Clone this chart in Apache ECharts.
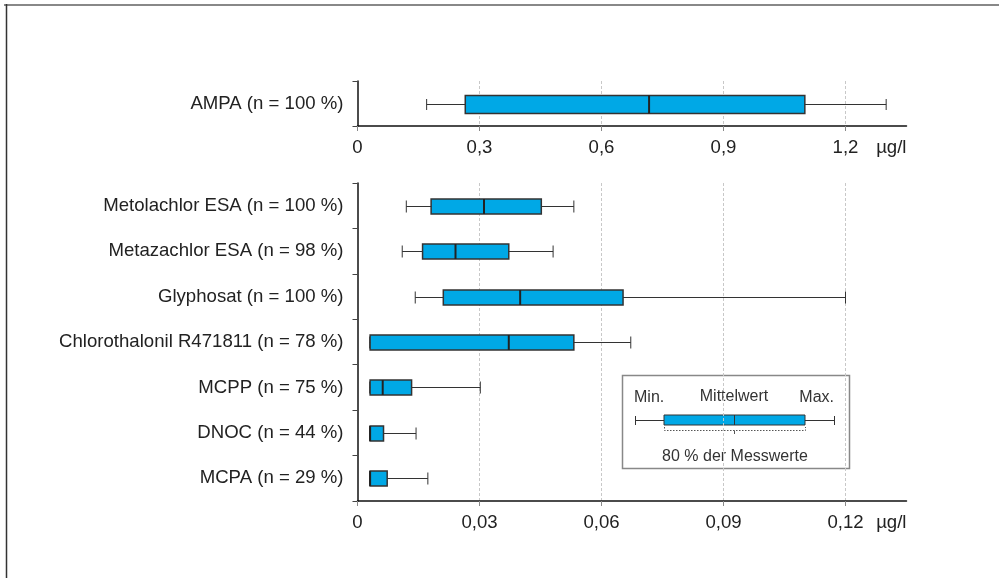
<!DOCTYPE html>
<html><head><meta charset="utf-8">
<script src="https://cdn.jsdelivr.net/npm/echarts@6/dist/echarts.min.js"></script>
<style>html,body{margin:0;padding:0;background:#fff}#c{width:999px;height:578px}</style>
</head><body><div id="c"></div>
<script>
// ---- data ----
const topCategories = ['AMPA (n = 100 %)'];
const topMin = [0.17];
const topQ1 = [0.265];
const topMedian = [0.717];
const topQ3 = [1.10];
const topMax = [1.30];
const topTicks = [0, 0.3, 0.6, 0.9, 1.2];

const categories = ['Metolachlor ESA (n = 100 %)', 'Metazachlor ESA (n = 98 %)', 'Glyphosat (n = 100 %)',
  'Chlorothalonil R471811 (n = 78 %)', 'MCPP (n = 75 %)', 'DNOC (n = 44 %)', 'MCPA (n = 29 %)'];
const mins =    [0.0120, 0.0110, 0.0142, 0.0030, 0.0030, 0.0030, 0.0030];
const q1s =     [0.0181, 0.0160, 0.0211, 0.0031, 0.0031, 0.0031, 0.0031];
const medians = [0.0311, 0.0241, 0.0400, 0.0372, 0.0062, 0.0031, 0.0031];
const q3s =     [0.0452, 0.0372, 0.0653, 0.0532, 0.0133, 0.0064, 0.0073];
const maxs =    [0.0532, 0.0481, 0.1200, 0.0672, 0.0302, 0.0144, 0.0173];
const bottomTicks = [0, 0.03, 0.06, 0.09, 0.12];
const unit = 'µg/l';

// ---- chart ----
const FONT = '"Liberation Sans", Arial, sans-serif';
const TXT = '#222';
const BLUE = '#00a8e6';
const FS = 18.6;
const chart = echarts.init(document.getElementById('c'), null, {renderer: 'canvas'});

function rows(mn, a, m, b, mx) {
  return mn.map((v, i) => [i, v, a[i], m[i], b[i], mx[i]]);
}
function makeRender(boxFrac, capFrac) {
  return function (params, api) {
    const cat = api.value(0);
    const lo = api.coord([api.value(1), cat]);
    const q1 = api.coord([api.value(2), cat]);
    const md = api.coord([api.value(3), cat]);
    const q3 = api.coord([api.value(4), cat]);
    const hi = api.coord([api.value(5), cat]);
    const band = api.size([0, 1])[1];
    const bh = Math.round(band * boxFrac), ch = Math.round(band * capFrac);
    const y = Math.round(lo[1]) + 0.5;
    const ln = {stroke: '#333', lineWidth: 1};
    return {
      type: 'group',
      children: [
        {type: 'line', shape: {x1: lo[0], y1: y, x2: hi[0], y2: y}, style: ln},
        {type: 'line', shape: {x1: lo[0], y1: y - ch / 2, x2: lo[0], y2: y + ch / 2}, style: ln},
        {type: 'line', shape: {x1: hi[0], y1: y - ch / 2, x2: hi[0], y2: y + ch / 2}, style: ln},
        {type: 'rect', shape: {x: q1[0], y: y - bh / 2, width: q3[0] - q1[0], height: bh},
          style: {fill: BLUE, stroke: '#333', lineWidth: 1.5}},
        {type: 'line', shape: {x1: md[0], y1: y - bh / 2, x2: md[0], y2: y + bh / 2},
          style: {stroke: '#222', lineWidth: 2}}
      ]
    };
  };
}
function fmt(v) { return String(+v.toFixed(4)).replace('.', ','); }

function xAxisCfg(gi, max, interval, ticks) {
  return {
    type: 'value', gridIndex: gi, min: 0, max: max, interval: interval,
    name: unit, nameLocation: 'end', nameGap: 0, nameMoveOverlap: false,
    nameTextStyle: {fontFamily: FONT, fontSize: FS, color: TXT, align: 'right', verticalAlign: 'top', padding: [12, 0, 0, 0]},
    axisLine: {show: true, lineStyle: {color: '#111', width: 1.5}},
    axisTick: {show: true, length: 5, customValues: ticks, lineStyle: {color: '#888'}},
    axisLabel: {fontFamily: FONT, fontSize: FS, color: TXT, margin: 12, customValues: ticks, formatter: fmt},
    splitLine: {show: true, showMinLine: false, lineStyle: {color: '#c8c8c8', type: [3, 2], width: 1}}
  };
}
function yAxisCfg(gi, cats) {
  return {
    type: 'category', gridIndex: gi, data: cats, inverse: true,
    axisLine: {show: true, lineStyle: {color: '#111', width: 1.5}},
    axisTick: {show: true, length: 5, inside: false, lineStyle: {color: '#444'}},
    axisLabel: {fontFamily: FONT, fontSize: FS, color: TXT, margin: 14},
    splitLine: {show: false}
  };
}

const g = [];
const lg = {stroke: '#333', lineWidth: 1};
g.push({type: 'line', shape: {x1: 4, y1: 5, x2: 999, y2: 5}, style: {stroke: '#888', lineWidth: 2}, silent: true});
g.push({type: 'line', shape: {x1: 6.5, y1: 4, x2: 6.5, y2: 578}, style: {stroke: '#333', lineWidth: 1.5}, silent: true});
g.push({type: 'group', z: 100, children: [
  {type: 'rect', shape: {x: 622.5, y: 375.5, width: 227, height: 93}, style: {fill: '#fff', stroke: '#888', lineWidth: 1.5}},
  {type: 'text', x: 634, y: 398, style: {text: 'Min.', font: '16px ' + FONT, fill: '#333', align: 'left', verticalAlign: 'middle'}},
  {type: 'text', x: 734, y: 397, style: {text: 'Mittelwert', font: '16px ' + FONT, fill: '#333', align: 'center', verticalAlign: 'middle'}},
  {type: 'text', x: 834, y: 398, style: {text: 'Max.', font: '16px ' + FONT, fill: '#333', align: 'right', verticalAlign: 'middle'}},
  {type: 'line', shape: {x1: 635.5, y1: 420.5, x2: 834.5, y2: 420.5}, style: lg},
  {type: 'line', shape: {x1: 635.5, y1: 416, x2: 635.5, y2: 425}, style: lg},
  {type: 'line', shape: {x1: 834.5, y1: 416, x2: 834.5, y2: 425}, style: lg},
  {type: 'rect', shape: {x: 664, y: 415, width: 141, height: 10}, style: {fill: BLUE, stroke: '#333', lineWidth: 1}},
  {type: 'line', shape: {x1: 734.5, y1: 415, x2: 734.5, y2: 425}, style: lg},
  {type: 'polyline', shape: {points: [[664.5, 427], [664.5, 430.5], [805.5, 430.5], [805.5, 427]]},
    style: {stroke: '#555', lineWidth: 1, lineDash: [1.5, 1.5], fill: null}},
  {type: 'line', shape: {x1: 734.5, y1: 430.5, x2: 734.5, y2: 434}, style: {stroke: '#555', lineWidth: 1}},
  {type: 'text', x: 735, y: 457, style: {text: '80 % der Messwerte', font: '16px ' + FONT, fill: '#333', align: 'center', verticalAlign: 'middle'}}
]});

chart.setOption({
  animation: false,
  backgroundColor: '#fff',
  textStyle: {fontFamily: FONT},
  grid: [
    {left: 357.5, right: 92.5, top: 81, height: 45, outerBoundsMode: 'none', containLabel: false},
    {left: 357.5, right: 92.5, top: 183, height: 318, outerBoundsMode: 'none', containLabel: false}
  ],
  xAxis: [xAxisCfg(0, 1.35, 0.3, topTicks), xAxisCfg(1, 0.135, 0.03, bottomTicks)],
  yAxis: [yAxisCfg(0, topCategories), yAxisCfg(1, categories)],
  graphic: g,
  series: [
    {type: 'custom', xAxisIndex: 0, yAxisIndex: 0, data: rows(topMin, topQ1, topMedian, topQ3, topMax),
      encode: {x: [1, 2, 3, 4, 5], y: 0}, renderItem: makeRender(0.4, 0.25), clip: false},
    {type: 'custom', xAxisIndex: 1, yAxisIndex: 1, data: rows(mins, q1s, medians, q3s, maxs),
      encode: {x: [1, 2, 3, 4, 5], y: 0}, renderItem: makeRender(0.33, 0.26), clip: false}
  ]
});
</script></body></html>
